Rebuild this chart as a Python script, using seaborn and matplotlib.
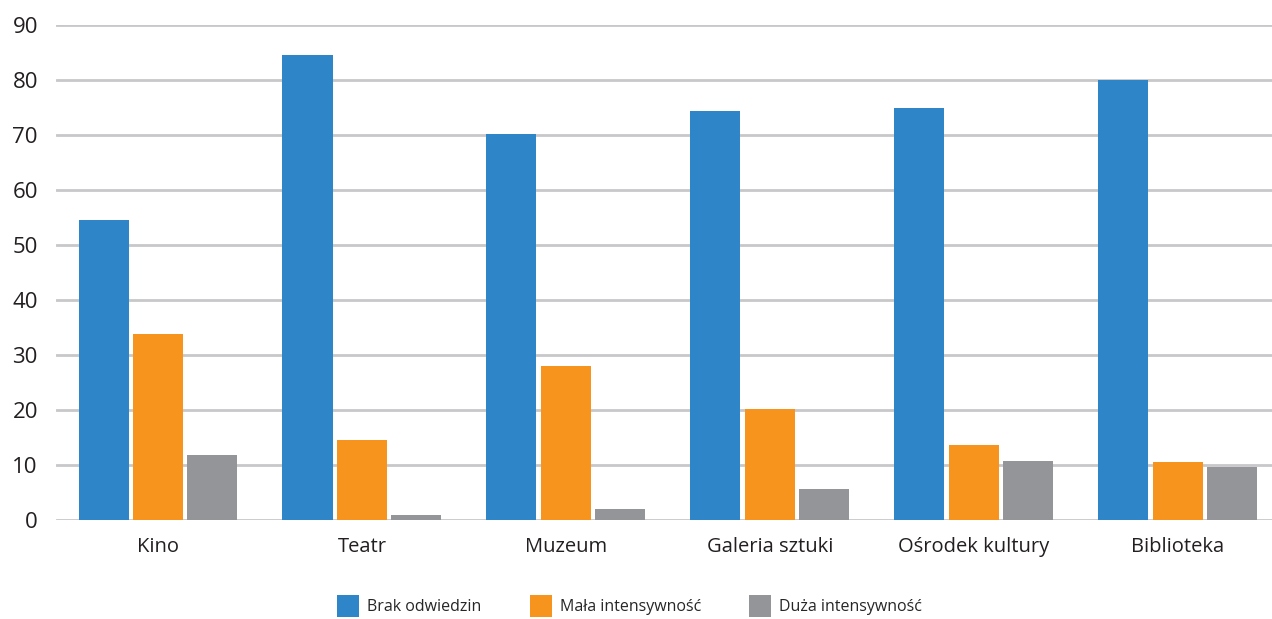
import matplotlib
matplotlib.use('Agg')

from matplotlib import pyplot as plt
import seaborn as sns
import pandas as pd

categories = ['Kino', 'Teatr', 'Muzeum', 'Galeria sztuki', 'Ośrodek kultury', 'Biblioteka']
brak = [54.5, 84.5, 70.2, 74.3, 74.8, 80.0]
mala = [33.8, 14.5, 28.0, 20.2, 13.6, 10.5]
duza = [11.8, 0.9, 2.0, 5.6, 10.7, 9.7]
series = ['Brak odwiedzin', 'Mała intensywność', 'Duża intensywność']
colors = ['#2E86C8', '#F7941D', '#939598']

rows = []
for name, vals in zip(series, [brak, mala, duza]):
    for cat, v in zip(categories, vals):
        rows.append({'Kategoria': cat, 'Seria': name, 'value': v})
df = pd.DataFrame(rows)

sns.set_style('white')
plt.rcParams['font.family'] = ['Open Sans', 'DejaVu Sans']

fig = plt.figure(figsize=(12.72, 6.19), dpi=100)
ax = fig.add_axes([0.044, 0.16, 0.962, 0.80])

sns.barplot(data=df, x='Kategoria', y='value', hue='Seria', order=categories,
            hue_order=series, palette=colors, width=0.8, gap=0.08,
            saturation=1, linewidth=0, ax=ax, legend=True)

ax.set_ylim(0, 90)
ax.set_yticks(range(0, 91, 10))
ax.yaxis.grid(True, color='#C8C8CA', linewidth=2)
ax.set_axisbelow(True)
for s in ax.spines.values():
    s.set_visible(False)
ax.tick_params(axis='both', length=0)
ax.tick_params(axis='y', labelsize=16, pad=13, labelcolor='#231F20')
ax.tick_params(axis='x', labelsize=14.5, pad=12, labelcolor='#231F20')
ax.set_xlabel('')
ax.set_ylabel('')

handles, labels = ax.get_legend_handles_labels()
ax.get_legend().remove()
fig.legend(handles, labels, loc='lower center', bbox_to_anchor=(0.495, -0.02), ncol=3,
           frameon=False, fontsize=11.5, handlelength=1.4, handleheight=1.7,
           columnspacing=3, handletextpad=0.5)

plt.savefig('out.png', dpi=100)
plt.close()
